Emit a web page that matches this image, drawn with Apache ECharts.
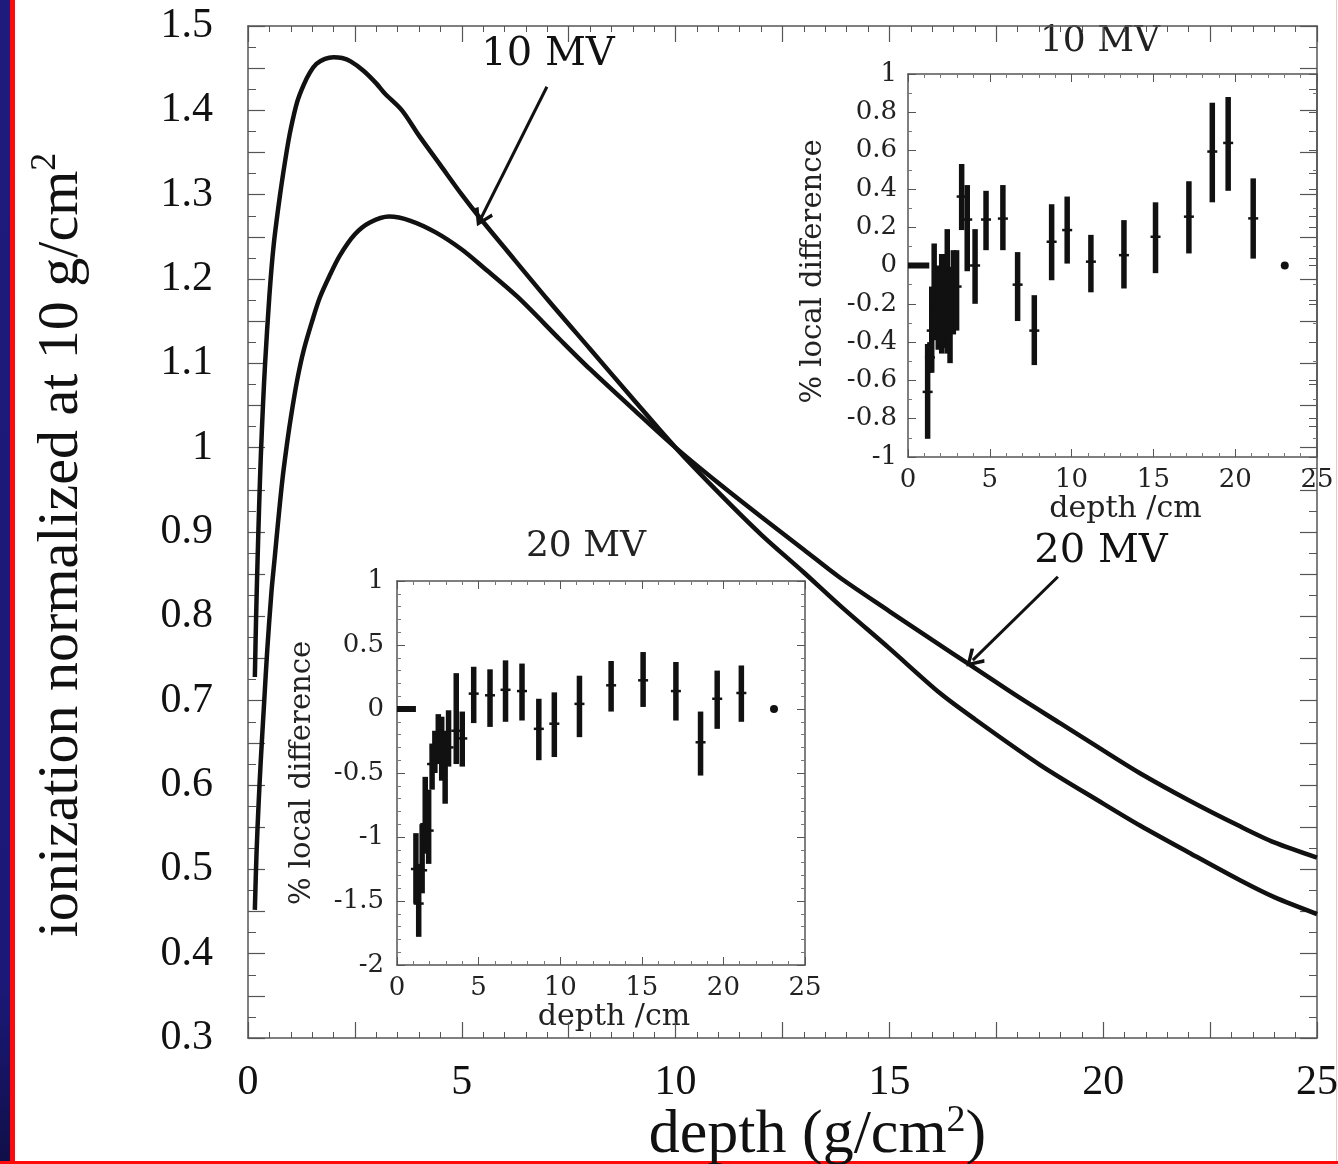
<!DOCTYPE html>
<html>
<head>
<meta charset="utf-8">
<script src="https://cdn.jsdelivr.net/npm/echarts@6/dist/echarts.min.js"></script>
<style>
html,body{margin:0;padding:0;background:#fff;}
#chart{width:1338px;height:1164px;}
</style>
</head>
<body>
<div id="chart"></div>
<script>
// ---------------- data ----------------
const mv10Depth = [0.16,0.19,0.22,0.26,0.3,0.35,0.4,0.5,0.6,0.75,0.9,1.0,1.15,1.3,1.45,1.6,1.8,2.0,2.2,2.4,2.7,3.0,3.2,3.6,4.0,4.5,5.0,5.43,6.0,7.0,8.0,9.0,10,11,12,13,13.84,15,16.18,17,18.52,20,20.86,22,23.2,24,25];
const mv10Value = [0.728,0.80,0.86,0.93,0.99,1.05,1.10,1.18,1.24,1.30,1.35,1.378,1.41,1.43,1.445,1.455,1.461,1.463,1.462,1.458,1.447,1.432,1.42,1.40,1.37,1.335,1.30,1.272,1.237,1.176,1.117,1.058,1.0,0.947,0.897,0.852,0.813,0.762,0.709,0.678,0.624,0.578,0.552,0.52,0.487,0.467,0.447];

const mv20Depth = [0.16,0.2,0.25,0.3,0.38,0.45,0.55,0.62,0.7,0.8,0.9,1.0,1.15,1.3,1.5,1.68,1.9,2.15,2.5,2.85,3.3,3.8,4.4,5.0,5.5,6.3,7.3,8,9,10,11,12,13,13.84,15,16,16.93,18,19,20,20.86,22,23.2,24,25];
const mv20Value = [0.452,0.52,0.58,0.63,0.70,0.76,0.83,0.867,0.91,0.96,1.0,1.035,1.08,1.115,1.15,1.178,1.203,1.228,1.253,1.267,1.274,1.269,1.255,1.235,1.214,1.179,1.128,1.093,1.046,1.0,0.958,0.918,0.879,0.846,0.806,0.772,0.741,0.705,0.673,0.641,0.614,0.582,0.551,0.532,0.514];

const arrow10 = [[6.99,1.428],[5.45,1.272]];
const arrow20 = [[18.94,0.847],[16.95,0.748]];

// inset 10 MV: % local difference with error bars
const err10Depth = [1.2,1.34,1.45,1.6,1.85,2.06,2.2,2.4,2.57,2.77,2.97,3.28,3.62,4.1,4.77,5.8,6.7,7.72,8.78,9.73,11.18,13.2,15.13,17.17,18.6,19.57,21.1];
const err10Value = [-0.66,-0.48,-0.34,-0.23,-0.16,-0.25,-0.22,-0.15,-0.29,-0.23,-0.11,0.36,0.24,0.0,0.24,0.245,-0.10,-0.34,0.124,0.185,0.02,0.054,0.15,0.255,0.595,0.64,0.246];
const err10Low = [-0.905,-0.56,-0.56,-0.39,-0.44,-0.46,-0.43,-0.46,-0.51,-0.36,-0.34,0.185,-0.03,-0.2,0.08,0.08,-0.29,-0.52,-0.077,0.01,-0.14,-0.12,-0.04,0.063,0.33,0.39,0.036];
const err10High = [-0.41,-0.40,-0.11,0.115,0.0,0.06,0.06,0.19,-0.007,0.08,0.08,0.53,0.42,0.19,0.39,0.42,0.07,-0.155,0.32,0.36,0.16,0.237,0.33,0.44,0.85,0.88,0.455];
const zero10Depth = [0,0.2,0.4,0.6,0.8,1.0,1.2,1.3];
const zero10Value = [0,0,0,0,0,0,0,0];
const dot10 = [[23.03,0]];

// inset 20 MV
const err20Depth = [1.16,1.33,1.54,1.73,1.94,2.15,2.32,2.53,2.74,2.95,3.16,3.63,4.0,4.7,5.7,6.65,7.66,8.69,9.64,11.18,13.12,15.08,17.09,18.6,19.62,21.1];
const err20Value = [-1.25,-1.52,-1.26,-0.9,-0.95,-0.43,-0.3,-0.19,-0.27,-0.32,-0.3,-0.17,-0.23,0.12,0.107,0.15,0.14,-0.155,-0.115,0.04,0.185,0.224,0.14,-0.26,0.08,0.125];
const err20Low = [-1.52,-1.78,-1.44,-1.13,-1.21,-0.63,-0.5,-0.43,-0.56,-0.74,-0.45,-0.43,-0.45,-0.11,-0.14,-0.1,-0.09,-0.4,-0.375,-0.22,-0.02,0.016,-0.09,-0.52,-0.155,-0.1];
const err20High = [-0.97,-1.21,-0.9,-0.53,-0.63,-0.27,-0.17,-0.04,-0.06,-0.17,-0.01,0.28,-0.02,0.33,0.31,0.38,0.355,0.08,0.13,0.26,0.375,0.445,0.367,-0.02,0.3,0.34];
const zero20Depth = [0,0.2,0.4,0.6,0.8,1.0,1.16];
const zero20Value = [0,0,0,0,0,0,0];
const dot20 = [[23.1,0]];

// tick labels
const mainXTicks = ['0','5','10','15','20','25'];
const mainYTicks = ['0.3','0.4','0.5','0.6','0.7','0.8','0.9','1','1.1','1.2','1.3','1.4','1.5'];

// ---------------- chart ----------------
const MAINF = "'Liberation Serif','Times New Roman',serif";
const INSF = "'DejaVu Serif',serif";
const INK = '#111';
const FRAME = '#555';

const zip2 = (a,b) => a.map((v,i)=>[v,b[i]]);
const zip4 = (a,b,c,d) => a.map((v,i)=>[v,b[i],c[i],d[i]]);

function errRender(params, api){
  const x = api.value(0), y = api.value(1), lo = api.value(2), hi = api.value(3);
  const pc = api.coord([x,y]), pl = api.coord([x,lo]), ph = api.coord([x,hi]);
  return {type:'group', children:[
    {type:'line', shape:{x1:pl[0],y1:pl[1],x2:ph[0],y2:ph[1]}, style:{stroke:INK,lineWidth:5.5}},
    {type:'line', shape:{x1:pc[0]-5,y1:pc[1],x2:pc[0]+5,y2:pc[1]}, style:{stroke:INK,lineWidth:2.5}}
  ]};
}

function frameAxis(base){
  return Object.assign({
    type:'value',
    axisLine:{show:true,onZero:false,lineStyle:{color:FRAME,width:1.5}},
    splitLine:{show:false}
  }, base);
}

const chevron = 'path://M50,0 L100,78 L86,90 L50,30 L14,90 L0,78 Z';

const option = {
  animation:false,
  backgroundColor:'#fff',
  grid:[
    {left:248, top:26, width:1069, height:1012, outerBoundsMode:'none', containLabel:false},
    {left:908, top:74, width:409, height:383, outerBoundsMode:'none', containLabel:false},
    {left:397, top:581, width:408, height:384, outerBoundsMode:'none', containLabel:false}
  ],
  xAxis:[
    frameAxis({gridIndex:0, position:'bottom', min:0, max:25, interval:2.5,
      axisTick:{inside:true,length:16,lineStyle:{color:FRAME,width:1.2}},
      minorTick:{show:true,splitNumber:5,length:6,lineStyle:{color:FRAME,width:1}},
      axisLabel:{margin:24,color:INK,fontFamily:MAINF,fontSize:42,
        formatter:v=>{const s=String(Math.round(v*10)/10);return mainXTicks.includes(s)?s:'';}},
      name:'depth (g/cm{sup|2})', nameLocation:'middle', nameGap:64, nameMoveOverlap:false,
      nameTextStyle:{color:INK,fontFamily:MAINF,fontSize:62,padding:[0,0,0,70],
        rich:{sup:{fontFamily:MAINF,fontSize:38,color:INK,padding:[0,0,30,0]}}}
    }),
    frameAxis({gridIndex:0, position:'top', min:0, max:25, interval:2.5,
      axisTick:{inside:true,length:16,lineStyle:{color:FRAME,width:1.2}},
      minorTick:{show:true,splitNumber:5,length:6,lineStyle:{color:FRAME,width:1}},
      axisLabel:{show:false}}),
    frameAxis({gridIndex:1, position:'bottom', min:0, max:25, interval:5,
      axisTick:{inside:true,length:8,lineStyle:{color:FRAME}},
      minorTick:{show:true,splitNumber:5,length:4,lineStyle:{color:'#777'}},
      axisLabel:{margin:10,color:'#222',fontFamily:INSF,fontSize:26},
      name:'depth /cm', nameLocation:'middle', nameGap:30,
      nameTextStyle:{color:'#222',fontFamily:INSF,fontSize:30,padding:[0,0,0,26]}}),
    frameAxis({gridIndex:1, position:'top', min:0, max:25, interval:5,
      axisTick:{inside:true,length:8,lineStyle:{color:FRAME}},
      minorTick:{show:true,splitNumber:5,length:4,lineStyle:{color:'#777'}},
      axisLabel:{show:false}}),
    frameAxis({gridIndex:2, position:'bottom', min:0, max:25, interval:5,
      axisTick:{inside:true,length:8,lineStyle:{color:FRAME}},
      minorTick:{show:true,splitNumber:5,length:4,lineStyle:{color:'#777'}},
      axisLabel:{margin:10,color:'#222',fontFamily:INSF,fontSize:26},
      name:'depth /cm', nameLocation:'middle', nameGap:30,
      nameTextStyle:{color:'#222',fontFamily:INSF,fontSize:30,padding:[0,0,0,26]}}),
    frameAxis({gridIndex:2, position:'top', min:0, max:25, interval:5,
      axisTick:{inside:true,length:8,lineStyle:{color:FRAME}},
      minorTick:{show:true,splitNumber:5,length:4,lineStyle:{color:'#777'}},
      axisLabel:{show:false}})
  ],
  yAxis:[
    frameAxis({gridIndex:0, position:'left', min:0.3, max:1.5, interval:0.05,
      axisTick:{inside:true,length:17,lineStyle:{color:FRAME,width:1.2}},
      minorTick:{show:true,splitNumber:2,length:8,lineStyle:{color:FRAME,width:1}},
      axisLabel:{margin:35,color:INK,fontFamily:MAINF,fontSize:42,
        formatter:v=>{const s=String(Math.round(v*1000)/1000);return mainYTicks.includes(s)?s:'';}},
      name:'ionization normalized at 10 g/cm{sup|2}', nameLocation:'middle', nameGap:152,
      nameTextStyle:{color:INK,fontFamily:MAINF,fontSize:58,padding:[0,26,0,0],
        rich:{sup:{fontFamily:MAINF,fontSize:36,color:INK,padding:[0,0,32,0]}}}
    }),
    frameAxis({gridIndex:0, position:'right', min:0.3, max:1.5, interval:0.05,
      axisTick:{inside:true,length:17,lineStyle:{color:FRAME,width:1.2}},
      minorTick:{show:true,splitNumber:2,length:8,lineStyle:{color:FRAME,width:1}},
      axisLabel:{show:false}}),
    frameAxis({gridIndex:1, position:'left', min:-1, max:1, interval:0.2,
      axisTick:{inside:true,length:8,lineStyle:{color:FRAME}},
      minorTick:{show:true,splitNumber:2,length:4,lineStyle:{color:'#777'}},
      axisLabel:{margin:11,color:'#222',fontFamily:INSF,fontSize:26},
      name:'% local difference', nameLocation:'middle', nameGap:80,
      nameTextStyle:{color:'#222',fontFamily:INSF,fontSize:29,padding:[0,12,0,0]}}),
    frameAxis({gridIndex:1, position:'right', min:-1, max:1, interval:0.2,
      axisTick:{inside:true,length:8,lineStyle:{color:FRAME}},
      minorTick:{show:true,splitNumber:2,length:4,lineStyle:{color:'#777'}},
      axisLabel:{show:false}}),
    frameAxis({gridIndex:2, position:'left', min:-2, max:1, interval:0.5,
      axisTick:{inside:true,length:8,lineStyle:{color:FRAME}},
      minorTick:{show:true,splitNumber:5,length:4,lineStyle:{color:'#777'}},
      axisLabel:{margin:13,color:'#222',fontFamily:INSF,fontSize:26},
      name:'% local difference', nameLocation:'middle', nameGap:80,
      nameTextStyle:{color:'#222',fontFamily:INSF,fontSize:29}}),
    frameAxis({gridIndex:2, position:'right', min:-2, max:1, interval:0.5,
      axisTick:{inside:true,length:8,lineStyle:{color:FRAME}},
      minorTick:{show:true,splitNumber:5,length:4,lineStyle:{color:'#777'}},
      axisLabel:{show:false}})
  ],
  series:[
    {type:'line', name:'10 MV', xAxisIndex:0, yAxisIndex:0, data:zip2(mv10Depth,mv10Value),
      smooth:0.3, showSymbol:false, lineStyle:{color:INK,width:4.5}, silent:true,
      markLine:{silent:true, symbol:['none',chevron], symbolSize:[20,18],
        lineStyle:{color:INK,width:3,type:'solid'}, label:{show:false},
        data:[[{coord:arrow10[0]},{coord:arrow10[1]}]]}},
    {type:'line', name:'20 MV', xAxisIndex:0, yAxisIndex:0, data:zip2(mv20Depth,mv20Value),
      smooth:0.3, showSymbol:false, lineStyle:{color:INK,width:4.5}, silent:true,
      markLine:{silent:true, symbol:['none',chevron], symbolSize:[20,18],
        lineStyle:{color:INK,width:3,type:'solid'}, label:{show:false},
        data:[[{coord:arrow20[0]},{coord:arrow20[1]}]]}},
    {type:'line', xAxisIndex:2, yAxisIndex:2, data:zip2(zero10Depth,zero10Value),
      showSymbol:false, lineStyle:{color:INK,width:6}, silent:true},
    {type:'custom', xAxisIndex:2, yAxisIndex:2, renderItem:errRender,
      data:zip4(err10Depth,err10Value,err10Low,err10High), silent:true},
    {type:'scatter', xAxisIndex:2, yAxisIndex:2, data:dot10, symbolSize:8,
      itemStyle:{color:INK,opacity:1}, silent:true},
    {type:'line', xAxisIndex:4, yAxisIndex:4, data:zip2(zero20Depth,zero20Value),
      showSymbol:false, lineStyle:{color:INK,width:6}, silent:true},
    {type:'custom', xAxisIndex:4, yAxisIndex:4, renderItem:errRender,
      data:zip4(err20Depth,err20Value,err20Low,err20High), silent:true},
    {type:'scatter', xAxisIndex:4, yAxisIndex:4, data:dot20, symbolSize:8,
      itemStyle:{color:INK,opacity:1}, silent:true}
  ],
  graphic:[
    {type:'rect', shape:{x:0,y:0,width:10,height:1164}, silent:true,
      style:{fill:new echarts.graphic.LinearGradient(0,0,0,1,[{offset:0,color:'#1e1b7c'},{offset:0.85,color:'#1b1877'},{offset:1,color:'#100f48'}])}},
    {type:'rect', shape:{x:10,y:0,width:5,height:1164}, style:{fill:'#ff0a0a'}, silent:true},
    {type:'rect', shape:{x:0,y:1161,width:1338,height:3}, style:{fill:'#ff0a0a'}, silent:true},
    {type:'rect', shape:{x:1336,y:0,width:1,height:1161}, style:{fill:'#f3c4c4'}, silent:true},
    {type:'text', x:548, y:55, silent:true,
      style:{text:'10 MV', font:"40px 'DejaVu Serif', serif", fill:INK, align:'center', verticalAlign:'middle'}},
    {type:'text', x:1101, y:552, silent:true,
      style:{text:'20 MV', font:"40px 'DejaVu Serif', serif", fill:INK, align:'center', verticalAlign:'middle'}},
    {type:'text', x:1100, y:42, silent:true,
      style:{text:'10 MV', font:"36px 'DejaVu Serif', serif", fill:'#222', align:'center', verticalAlign:'middle'}},
    {type:'text', x:586, y:547, silent:true,
      style:{text:'20 MV', font:"36px 'DejaVu Serif', serif", fill:'#222', align:'center', verticalAlign:'middle'}}
  ]
};

const chart = echarts.init(document.getElementById('chart'), null, {renderer:'canvas'});
chart.setOption(option);
</script>
</body>
</html>
